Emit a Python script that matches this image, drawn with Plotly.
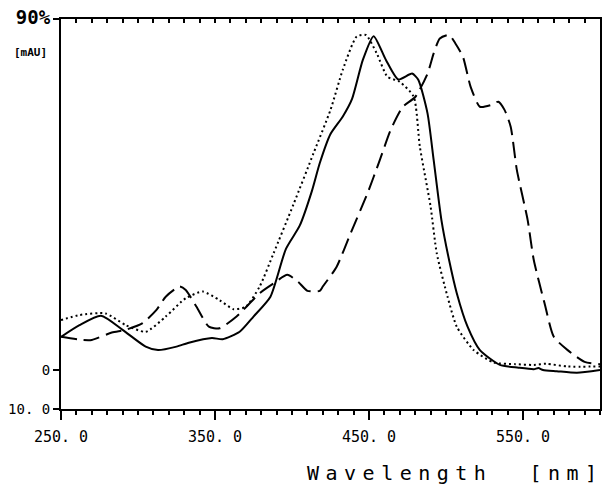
import plotly.graph_objects as go

# Absorption spectra (wavelength in nm, absorbance in mAU)
wl_solid = [250, 262, 276, 290, 305, 313, 325, 333, 348, 355, 366, 375, 386, 396, 405, 413,
            418, 425, 433, 439, 446, 453, 461, 469, 478, 482, 488, 492, 497, 502, 507, 514,
            522, 535, 547, 557, 560, 563, 572, 585, 600]
abs_solid = [8.5, 11.5, 13.9, 10.3, 6.0, 5.1, 6.0, 7.0, 8.2, 7.9, 9.8, 13.7, 18.8, 31.0, 37.0, 46.0,
             53.0, 60.5, 65.0, 69.5, 79.5, 85.6, 79.5, 74.5, 76.0, 74.4, 65.8, 53.8, 38.5, 28.2, 19.7, 11.1,
             5.1, 1.3, 0.6, 0.2, 0.5, 0.0, -0.3, -0.7, 0.0]

wl_dot = [250, 262, 279, 292, 305, 318, 331, 342, 353, 362, 370, 379, 388, 401, 414, 425, 433,
          442, 448, 455, 462, 470, 479, 483, 490, 494, 501, 507, 518, 531, 545, 557, 565, 579, 600]
abs_dot = [12.8, 14.1, 14.5, 11.5, 9.8, 13.7, 18.4, 20.1, 17.9, 15.6, 16.2, 21.4, 29.9, 42.5, 55.6, 66.7, 77.0,
           85.5, 85.9, 81.2, 75.2, 73.9, 70.1, 57.3, 41.9, 29.9, 18.8, 11.1, 5.1, 1.9, 1.5, 1.3, 1.6, 0.9, 0.9]

wl_dash = [250, 264, 270, 283, 292, 303, 312, 318, 327, 331, 338, 346, 353, 364, 379, 388, 397,
           404, 410, 418, 420, 429, 438, 449, 457, 464, 472, 480, 488, 492, 496, 502, 506, 511,
           516, 522, 529, 534, 538, 542, 546, 553, 557, 564, 570, 579, 590, 600]
abs_dash = [8.5, 7.7, 7.7, 9.6, 10.3, 12.0, 15.4, 18.8, 21.4, 20.5, 16.2, 11.1, 10.7, 13.7, 19.7, 22.2, 24.4,
            22.6, 20.3, 20.3, 21.4, 26.5, 35.0, 45.3, 53.8, 61.5, 67.5, 70.0, 76.0, 81.2, 85.0, 85.9, 83.8, 80.3,
            72.6, 67.5, 67.9, 68.8, 66.7, 62.4, 51.3, 38.5, 28.2, 17.1, 8.5, 5.1, 2.1, 1.5]

x_ticks = [250, 350, 450, 550]
x_labels = ["250. 0", "350. 0", "450. 0", "550. 0"]
y_ticks = [-10, 0, 90]
y_labels = ["10. 0", "0", "<b><span style='font-size:19px'>90%</span></b>"]
minor_x = list(range(250, 601, 10))

MONO = "DejaVu Sans Mono"

fig = go.Figure()
fig.add_trace(go.Scatter(x=wl_dot, y=abs_dot, mode="lines",
                         line=dict(color="black", width=2, dash="2px,3px", shape="spline", smoothing=0.6),
                         showlegend=False, hoverinfo="skip"))
fig.add_trace(go.Scatter(x=wl_dash, y=abs_dash, mode="lines",
                         line=dict(color="black", width=2, dash="16px,7px", shape="spline", smoothing=0.6),
                         showlegend=False, hoverinfo="skip"))
fig.add_trace(go.Scatter(x=wl_solid, y=abs_solid, mode="lines",
                         line=dict(color="black", width=2, shape="spline", smoothing=0.6),
                         showlegend=False, hoverinfo="skip"))
# empty trace that brings up the top tick axis
fig.add_trace(go.Scatter(x=[None], y=[None], xaxis="x2", showlegend=False, hoverinfo="skip"))

fig.update_layout(
    width=603, height=484,
    margin=dict(l=61, r=1, t=19, b=75),
    paper_bgcolor="white", plot_bgcolor="white",
    font=dict(family=MONO, color="black", size=15),
    xaxis=dict(range=[250, 600], showgrid=False, zeroline=False,
               showline=True, linecolor="black", linewidth=2, mirror=True,
               tickmode="array", tickvals=x_ticks, ticktext=x_labels,
               ticks="outside", ticklen=9, tickwidth=1.5, tickcolor="black",
               ticklabelstandoff=4,
               tickfont=dict(family=MONO, size=15),
               minor=dict(tickvals=minor_x, ticks="outside", ticklen=4, tickwidth=1.5, tickcolor="black")),
    xaxis2=dict(range=[250, 600], overlaying="x", side="top", anchor="y",
                showgrid=False, zeroline=False, showline=True, linecolor="black", linewidth=2,
                tickmode="array", tickvals=minor_x, showticklabels=False,
                ticks="inside", ticklen=4, tickwidth=1.5, tickcolor="black"),
    yaxis=dict(range=[-10, 90], showgrid=False, zeroline=False,
               showline=True, linecolor="black", linewidth=2, mirror=True,
               tickmode="array", tickvals=y_ticks, ticktext=y_labels,
               ticks="outside", ticklen=6, tickwidth=1.5, tickcolor="black",
               tickfont=dict(family=MONO, size=14)),
    annotations=[
        dict(text="<b>[mAU]</b>", xref="paper", yref="paper", x=-0.057, y=0.915,
             xanchor="center", yanchor="middle", showarrow=False,
             font=dict(family=MONO, size=11)),
        dict(text="<span style='letter-spacing:6.5px'>Wavelength  [nm]</span>",
             xref="paper", yref="paper", x=1.012, y=-0.163,
             xanchor="right", yanchor="middle", showarrow=False,
             font=dict(family=MONO, size=20)),
    ],
)

fig.write_html("out.html")
